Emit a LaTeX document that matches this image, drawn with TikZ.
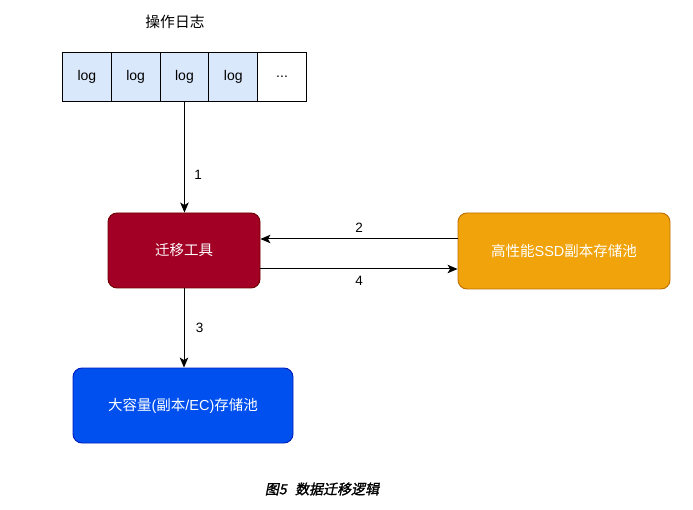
\documentclass[tikz,border=0pt]{standalone}
\usepackage{fontspec}
\setmainfont{Liberation Sans}
\newfontfamily\cjk{Noto Sans CJK SC}
\newfontfamily\capfont[FakeSlant=0.2,FakeBold=1.5]{Noto Sans CJK SC}
\usetikzlibrary{arrows.meta}
\definecolor{logfill}{HTML}{DAE8FC}
\definecolor{toolfill}{HTML}{A20025}
\definecolor{toolline}{HTML}{6F0000}
\definecolor{ssdfill}{HTML}{F0A30A}
\definecolor{ssdline}{HTML}{BD7000}
\definecolor{bigfill}{HTML}{0050EF}
\definecolor{bigline}{HTML}{001DBC}
\begin{document}
\begin{tikzpicture}[x=1pt,y=-1pt,
  cell/.style={draw=black,line width=0.9pt,minimum width=48.8pt,minimum height=49pt,inner sep=0pt,anchor=north west,font=\fontsize{14}{16}\selectfont},
  box/.style={rounded corners=9pt,line width=0.9pt,text=white,inner sep=0pt,font=\fontsize{14.5}{17}\selectfont},
  conn/.style={draw=black,line width=1pt,-{Stealth[length=10pt,width=8.5pt,inset=2.5pt]}},
  num/.style={font=\fontsize{13.5}{15}\selectfont}]
\useasboundingbox (0,0) rectangle (693,510);
\fill[white] (0,0) rectangle (693,510);
\node[font=\cjk\fontsize{14.8}{17}\selectfont] (title) at (175,22) {操作日志};
\node[cell,fill=logfill] (l1) at (62,52) {log};
\node[cell,fill=logfill] (l2) at (110.8,52) {log};
\node[cell,fill=logfill] (l3) at (159.6,52) {log};
\node[cell,fill=logfill] (l4) at (208.4,52) {log};
\node[cell,fill=white] (l5) at (257.2,52) {...};
\node[box,fill=toolfill,draw=toolline,minimum width=152pt,minimum height=75pt] (tool) at (184,250.5) {\cjk 迁移工具};
\node[box,fill=ssdfill,draw=ssdline,minimum width=212pt,minimum height=76pt] (ssd) at (564,251) {\cjk 高性能\rmfamily SSD\cjk 副本存储池};
\node[box,fill=bigfill,draw=bigline,minimum width=220pt,minimum height=75pt] (big) at (183,405.5) {\cjk 大容量\rmfamily (\cjk 副本\rmfamily /EC)\cjk 存储池};
\draw[conn] (l3.south) -- (l3.south |- tool.north) node[num,pos=0.66,right=6pt] {1};
\draw[conn] (ssd.west |- 0,239) -- (tool.east |- 0,239) node[num,midway,above=3pt] {2};
\draw[conn] (tool.east |- 0,269) -- (ssd.west |- 0,269) node[num,midway,below=3pt] {4};
\draw[conn] (tool.south) -- (tool.south |- big.north) node[num,midway,right=8pt] {3};
\node[font=\capfont\fontsize{14}{16}\selectfont] (cap) at (322,489) {图5\hspace{0.6em}数据迁移逻辑};
\end{tikzpicture}
\end{document}
